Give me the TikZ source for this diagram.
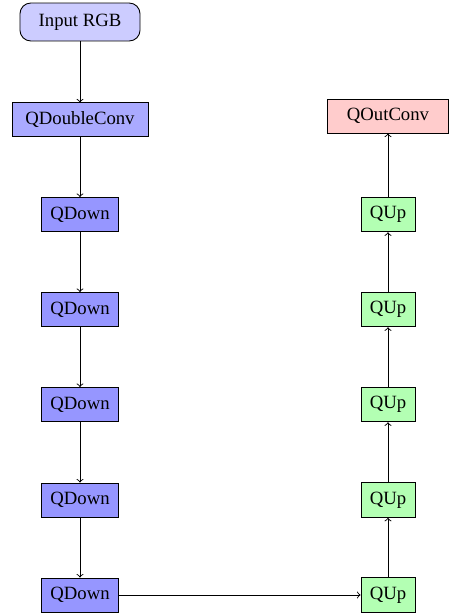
\documentclass[tikz,border=0pt]{standalone}
\usepackage{fontspec}
\setmainfont{Liberation Serif}
\definecolor{inputfill}{RGB}{204,204,255}
\definecolor{dconvfill}{RGB}{170,170,255}
\definecolor{downfill}{RGB}{150,150,255}
\definecolor{upfill}{RGB}{179,255,179}
\definecolor{outfill}{RGB}{255,204,204}
\begin{document}
\begin{tikzpicture}[x=0.5556pt,y=-0.5556pt,
  box/.style={draw=black, line width=0.5pt, inner sep=0pt, font=\fontsize{10.4}{12}\selectfont},
  inbox/.style={box, fill=inputfill, rounded corners=6pt, minimum width=66.7pt, minimum height=21.1pt},
  dconvbox/.style={box, fill=dconvfill, minimum width=75.6pt, minimum height=18.4pt},
  downbox/.style={box, fill=downfill, minimum width=42.8pt, minimum height=18.9pt},
  upbox/.style={box, fill=upfill, minimum width=30pt, minimum height=19.2pt},
  outbox/.style={box, fill=outfill, minimum width=67.2pt, minimum height=18.9pt},
  conn/.style={->, line width=0.5pt}]
\useasboundingbox (0,0) rectangle (449,614);
\node[inbox] (in) at (80,22) {Input RGB};
\node[dconvbox] (dc) at (80,119.5) {QDoubleConv};
\node[downbox] (d1) at (80,214.5) {QDown};
\node[downbox] (d2) at (80,309.5) {QDown};
\node[downbox] (d3) at (80,404.5) {QDown};
\node[downbox] (d4) at (80,500) {QDown};
\node[downbox] (d5) at (80,595) {QDown};
\node[upbox] (u5) at (388,595) {QUp};
\node[upbox] (u4) at (388,500) {QUp};
\node[upbox] (u3) at (388,404.5) {QUp};
\node[upbox] (u2) at (388,309.5) {QUp};
\node[upbox] (u1) at (388,214.5) {QUp};
\node[outbox] (out) at (388,116) {QOutConv};
\draw[conn] (in) -- (dc);
\draw[conn] (dc) -- (d1);
\draw[conn] (d1) -- (d2);
\draw[conn] (d2) -- (d3);
\draw[conn] (d3) -- (d4);
\draw[conn] (d4) -- (d5);
\draw[conn] (d5) -- (u5);
\draw[conn] (u5) -- (u4);
\draw[conn] (u4) -- (u3);
\draw[conn] (u3) -- (u2);
\draw[conn] (u2) -- (u1);
\draw[conn] (u1) -- (out);
\end{tikzpicture}
\end{document}
